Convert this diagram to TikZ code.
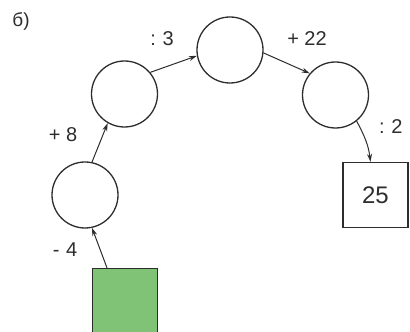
\documentclass[tikz,border=0pt]{standalone}
\usepackage{fontspec}
\setmainfont{Liberation Sans}
\usetikzlibrary{arrows.meta}
\definecolor{ink}{RGB}{45,45,45}
\definecolor{boxgreen}{RGB}{128,194,118}
\begin{document}
\begin{tikzpicture}[x=1pt,y=1pt,
  stepcircle/.style={circle,draw=ink,line width=1.3pt,minimum size=66pt,inner sep=0pt},
  stepsquare/.style={rectangle,draw=ink,line width=1.3pt,minimum size=65pt,inner sep=0pt},
  oplabel/.style={text=ink,font=\fontsize{20}{24}\selectfont,inner sep=0pt},
  link/.style={draw=ink,line width=1pt,-{Stealth[length=8pt,width=5pt]}}]
\useasboundingbox (0,0) rectangle (410,332);
\node[text=ink,font=\fontsize{19}{22}\selectfont,inner sep=0pt] (title) at (21,310) {б)};
\node[stepcircle] (c1) at (85,137) {};
\node[stepcircle] (c2) at (124.5,238) {};
\node[stepcircle] (c3) at (230,282) {};
\node[stepcircle] (c4) at (335.5,237) {};
\node[stepsquare,font=\fontsize{24}{28}\selectfont,text=ink] (res) at (375.5,137) {25};
\node[stepsquare,fill=boxgreen] (start) at (125,31) {};
\node[oplabel] (l1) at (65,82) {-\,\,4};
\node[oplabel] (l2) at (63,197) {+ 8};
\node[oplabel] (l3) at (162,293) {:\,\,3};
\node[oplabel] (l4) at (307,293) {+ 22};
\node[oplabel,anchor=west] (l5) at (379,205) {:\,\,2};
\draw[link] ([xshift=-18pt]start.north) -- (c1.282);
\draw[link] (c1.78) -- (c2.240);
\draw[link] (c2.40) -- (c3.190);
\draw[link] (c3.-5) -- (c4.140);
\draw[link] (c4.-51) to[out=-62,in=97] ([xshift=-5pt]res.north);
\end{tikzpicture}
\end{document}
